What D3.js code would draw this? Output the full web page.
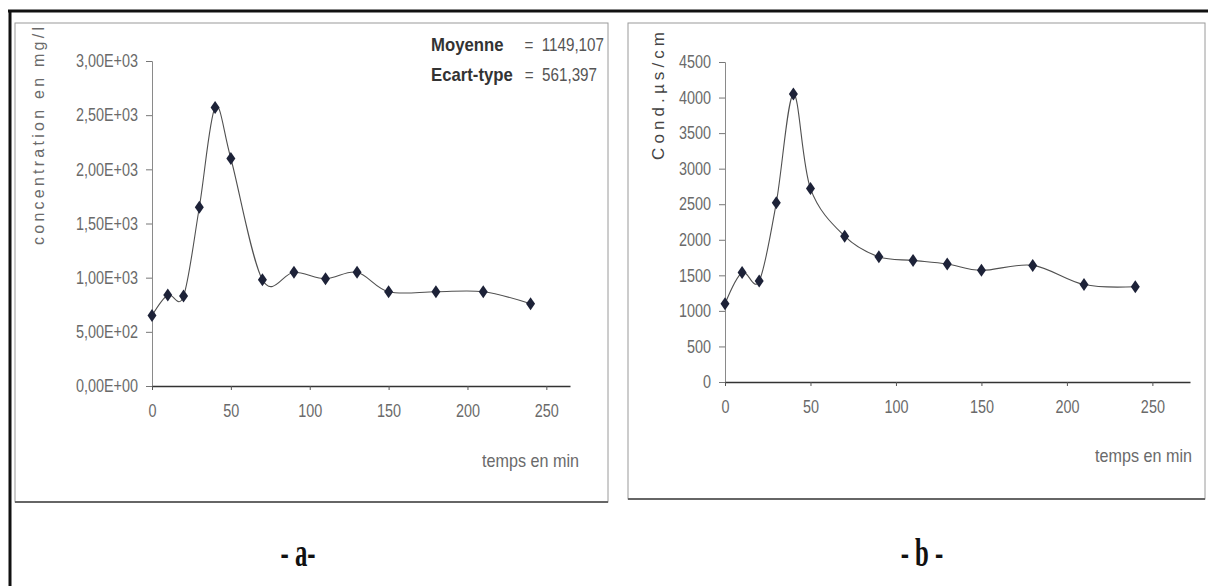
<!DOCTYPE html>
<html>
<head>
<meta charset="utf-8">
<script src="https://cdn.jsdelivr.net/npm/d3@7"></script>
<style>
  body { margin: 0; background: #fff; }
  svg { display: block; }
  .tick-label { font-family: "Liberation Sans", Arial, sans-serif; font-size: 18px; fill: #6a6a6a; }
</style>
</head>
<body>
<div id="chart"></div>
<script>
// sampling times (min)
const timesA = [0, 10, 20, 30, 40, 50, 70, 90, 110, 130, 150, 180, 210, 240];
const timesB = [0, 10, 20, 30, 40, 50, 70, 90, 110, 130, 150, 180, 210, 240];

// concentration en mg/l (panel a)
const concA = [650, 840, 830, 1650, 2570, 2100, 980, 1050, 990, 1050, 870, 870, 870, 760];

// conductivite µs/cm (panel b)
const condB = [1100, 1540, 1420, 2520, 4050, 2720, 2050, 1760, 1710, 1660, 1570, 1640, 1370, 1340];

const xTicks = [0, 50, 100, 150, 200, 250];
const yTicksA = [0, 500, 1000, 1500, 2000, 2500, 3000];
const yTickLabelsA = ['0,00E+00', '5,00E+02', '1,00E+03', '1,50E+03', '2,00E+03', '2,50E+03', '3,00E+03'];
const yTicksB = [0, 500, 1000, 1500, 2000, 2500, 3000, 3500, 4000, 4500];

const statNames = ['Moyenne', 'Ecart-type'];
const statValues = ['=\u00a0\u00a01149,107', '=\u00a0\u00a0561,397'];

(function() {
  'use strict';

  const W = 1208, H = 586;

  const svg = d3.select('#chart').append('svg')
    .attr('width', W)
    .attr('height', H);

  // squeeze text horizontally (narrow font look)
  const narrow = (sel, f) => {
    sel.each(function() {
      const len = this.getComputedTextLength();
      d3.select(this)
        .attr('textLength', len * f)
        .attr('lengthAdjust', 'spacingAndGlyphs');
    });
  };

  // outer frame (top + left)
  svg.append('line').attr('x1', 8).attr('x2', W).attr('y1', 11).attr('y2', 11)
    .attr('stroke', '#111').attr('stroke-width', 3);
  svg.append('line').attr('x1', 10).attr('x2', 10).attr('y1', 10).attr('y2', H)
    .attr('stroke', '#111').attr('stroke-width', 3);

  const panel = (cfg) => {
    // panel box
    const b = cfg.box;
    svg.append('rect')
      .attr('x', b[0]).attr('y', b[1])
      .attr('width', b[2] - b[0]).attr('height', b[3] - b[1])
      .attr('fill', '#fff').attr('stroke', '#9a9a9a').attr('stroke-width', 1);
    svg.append('line')
      .attr('x1', b[0]).attr('x2', b[2]).attr('y1', b[3]).attr('y2', b[3])
      .attr('stroke', '#666').attr('stroke-width', 2);

    const x = d3.scaleLinear().domain(cfg.xDomain).range(cfg.xRange);
    const y = d3.scaleLinear().domain(cfg.yDomain).range(cfg.yRange);

    const g = svg.append('g');

    // y axis
    const yAxis = g.append('g')
      .attr('transform', `translate(${cfg.xRange[0]},0)`)
      .call(d3.axisLeft(y).tickValues(cfg.yTicks).tickSize(6).tickPadding(8)
        .tickFormat((d, i) => cfg.yLabels ? cfg.yLabels[i] : d));
    yAxis.select('.domain').attr('stroke', '#8a8a8a');
    yAxis.selectAll('.tick line').attr('stroke', '#777');
    yAxis.selectAll('.tick text').attr('class', 'tick-label').attr('font-family', null).attr('font-size', null)
      .call(narrow, 0.8);

    // x axis
    const xAxis = g.append('g')
      .attr('transform', `translate(0,${cfg.yRange[0]})`)
      .call(d3.axisBottom(x).tickValues(xTicks).tickSize(4).tickPadding(14).tickSizeOuter(0));
    xAxis.select('.domain').attr('stroke', '#333').attr('stroke-width', 1.6);
    xAxis.selectAll('.tick line').attr('stroke', '#555');
    xAxis.selectAll('.tick text').attr('class', 'tick-label').attr('font-family', null).attr('font-size', null)
      .call(narrow, 0.8);

    // smoothed series line
    const pts = cfg.xs.map((t, i) => [t, cfg.ys[i]]);
    const line = d3.line()
      .x(d => x(d[0]))
      .y(d => y(d[1]))
      .curve(d3.curveCardinal.tension(0));
    g.append('path')
      .datum(pts)
      .attr('d', line)
      .attr('fill', 'none')
      .attr('stroke', '#505050')
      .attr('stroke-width', 1.1);

    // diamond markers
    const diamond = 'M0,-6.5L4.5,0L0,6.5L-4.5,0Z';
    g.selectAll('.mk')
      .data(pts)
      .enter()
      .append('path')
      .attr('class', 'mk')
      .attr('d', diamond)
      .attr('transform', d => `translate(${x(d[0])},${y(d[1])})`)
      .attr('fill', '#1d2238');

    // axis titles
    g.append('text')
      .attr('transform', `translate(${cfg.yTitlePos[0]},${cfg.yTitlePos[1]}) rotate(-90)`)
      .attr('text-anchor', 'middle')
      .attr('dominant-baseline', 'central')
      .attr('font-family', 'Liberation Sans, Arial, sans-serif')
      .attr('font-size', cfg.yTitleSize)
      .attr('font-weight', cfg.yTitleWeight)
      .attr('fill', cfg.yTitleColor)
      .attr('textLength', cfg.yTitleLen)
      .attr('lengthAdjust', 'spacing')
      .text(cfg.yTitle);

    g.append('text')
      .attr('x', cfg.xTitlePos[0])
      .attr('y', cfg.xTitlePos[1])
      .attr('text-anchor', 'end')
      .attr('dominant-baseline', 'central')
      .attr('class', 'tick-label')
      .style('font-size', '19px')
      .text('temps en min')
      .call(narrow, 0.85);

    // caption below the panel
    svg.append('text')
      .attr('transform', `translate(${cfg.captionPos[0]},${cfg.captionPos[1]}) scale(0.62,1)`)
      .attr('text-anchor', 'middle')
      .attr('font-family', 'Liberation Serif, Times New Roman, serif')
      .attr('font-weight', 'bold')
      .attr('font-size', 40)
      .attr('fill', '#111')
      .text(cfg.caption);

    return g;
  };

  const gA = panel({
    box: [15, 23, 608, 502],
    xDomain: [0, 265], xRange: [152, 570],
    yDomain: [0, 3000], yRange: [386, 61],
    yTicks: yTicksA, yLabels: yTickLabelsA,
    xs: timesA, ys: concA,
    yTitle: 'concentration en mg/l', yTitlePos: [38, 136], yTitleSize: 16,
    yTitleWeight: 'normal', yTitleColor: '#6a6a6a', yTitleLen: 218,
    xTitlePos: [579, 460],
    caption: '- a-', captionPos: [298, 566]
  });

  // stats text (name + value)
  const statEnds = [604, 597];
  statNames.forEach((name, i) => {
    gA.append('text')
      .attr('x', 431)
      .attr('y', 44 + i * 30)
      .attr('dominant-baseline', 'central')
      .attr('font-family', 'Liberation Sans, Arial, sans-serif')
      .attr('font-size', 19)
      .attr('font-weight', 'bold')
      .attr('fill', '#333')
      .text(name)
      .call(narrow, 0.88);
    gA.append('text')
      .attr('x', statEnds[i])
      .attr('y', 44 + i * 30)
      .attr('text-anchor', 'end')
      .attr('dominant-baseline', 'central')
      .attr('font-family', 'Liberation Sans, Arial, sans-serif')
      .attr('font-size', 19)
      .attr('fill', '#555')
      .text(statValues[i])
      .call(narrow, 0.8);
  });

  panel({
    box: [628, 23, 1205, 499],
    xDomain: [0, 272], xRange: [725, 1190],
    yDomain: [0, 4500], yRange: [382, 62],
    yTicks: yTicksB, yLabels: null,
    xs: timesB, ys: condB,
    yTitle: 'Cond.µs/cm', yTitlePos: [658, 96], yTitleSize: 17,
    yTitleWeight: 'normal', yTitleColor: '#444', yTitleLen: 128,
    xTitlePos: [1192, 455],
    caption: '- b -', captionPos: [922, 566]
  });
})();
</script>
</body>
</html>
